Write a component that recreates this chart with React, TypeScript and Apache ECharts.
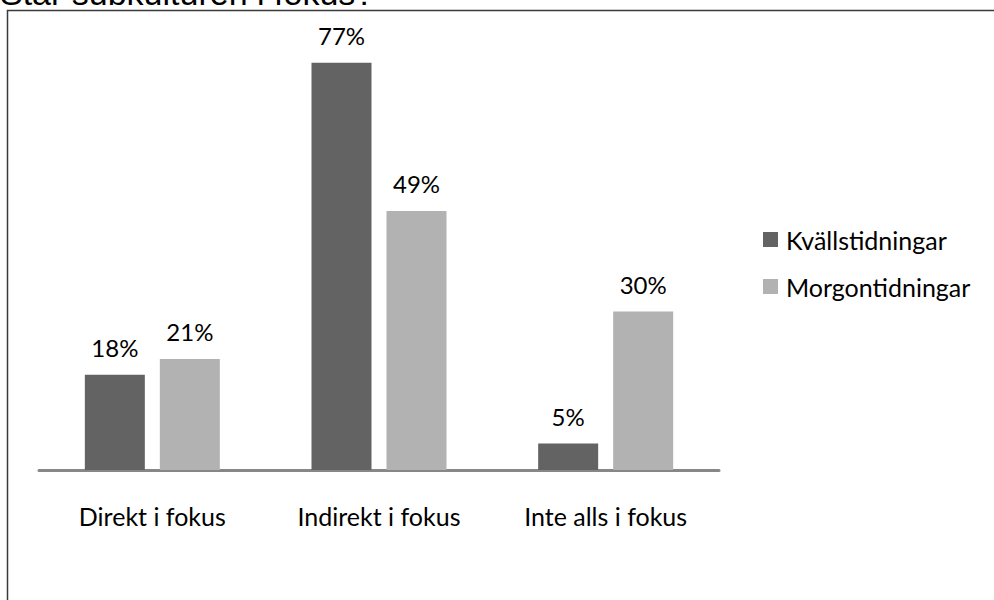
import React, { useEffect, useRef } from "react";
import * as echarts from "echarts";

const categories = ["Direkt i fokus", "Indirekt i fokus", "Inte alls i fokus"];
const seriesNames = ["Kvällstidningar", "Morgontidningar"];
const kvallValues = [18, 77, 5];
const morgonValues = [21, 49, 30];
const titleText = "Står subkulturen i fokus?";

const FONT = "Lato, 'Noto Sans', sans-serif";

export default function App() {
  const ref = useRef<HTMLDivElement>(null);
  useEffect(() => {
    if (!ref.current) return;
    const chart = echarts.init(ref.current, undefined, { renderer: "svg" });
    const labelCfg = {
      show: true,
      position: "top",
      distance: 15,
      formatter: "{c}%",
      color: "#000",
      fontSize: 24,
      fontFamily: FONT,
    };
    chart.setOption({
      animation: false,
      backgroundColor: "#fff",
      textStyle: { fontFamily: FONT },
      graphic: [
        {
          type: "text",
          left: 0,
          top: -24,
          style: {
            text: titleText,
            fontSize: 34,
            fontFamily: "'Liberation Sans', Arial, sans-serif",
            fill: "#000",
          },
        },
        {
          type: "rect",
          shape: { x: 7.5, y: 10.5, width: 1100, height: 700 },
          style: { fill: "none", stroke: "#3a3a3a", lineWidth: 1.5 },
          silent: true,
          z: -1,
        },
      ],
      legend: {
        orient: "vertical",
        left: 758,
        top: 222,
        itemWidth: 15,
        itemHeight: 15,
        itemGap: 22,
        icon: "rect",
        textStyle: { fontSize: 25, fontFamily: FONT, color: "#000", padding: [0, 0, 0, 3] },
        data: seriesNames,
      },
      grid: { left: 39, right: 275, top: 47, bottom: 130 },
      xAxis: {
        type: "category",
        data: categories,
        axisLine: { lineStyle: { color: "#878787", width: 3 } },
        axisTick: { show: false },
        axisLabel: { fontSize: 25, fontFamily: FONT, color: "#000", margin: 33 },
      },
      yAxis: {
        type: "value",
        min: 0,
        max: 80,
        show: false,
        splitLine: { show: false },
      },
      series: [
        {
          name: seriesNames[0],
          type: "bar",
          data: kvallValues,
          barWidth: 60,
          barGap: "25%",
          itemStyle: { color: "#636363" },
          label: labelCfg,
        },
        {
          name: seriesNames[1],
          type: "bar",
          data: morgonValues,
          barWidth: 60,
          barGap: "25%",
          itemStyle: { color: "#b2b2b2" },
          label: labelCfg,
        },
      ],
    });
    return () => chart.dispose();
  }, []);
  return (
    <div
      ref={ref}
      style={{ position: "fixed", left: 0, top: 0, width: 994, height: 600 }}
    />
  );
}
